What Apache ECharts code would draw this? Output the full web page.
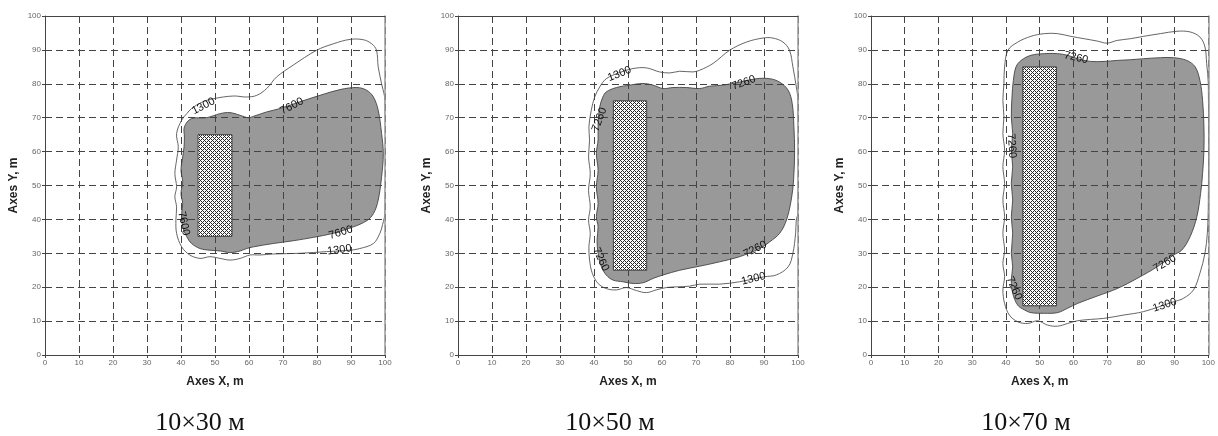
<!DOCTYPE html>
<html><head><meta charset="utf-8">
<script src="https://cdn.jsdelivr.net/npm/echarts@6/dist/echarts.min.js"></script>
<style>html,body{margin:0;padding:0;background:#fff}#c{width:1218px;height:436px}</style>
</head><body><div id="c"></div>
<script>
// ---- data ----
const axisTicks = [0,10,20,30,40,50,60,70,80,90,100];
const captions = ['10×30 м','10×50 м','10×70 м'];
const xTitle = 'Axes X, m';
const yTitle = 'Axes Y, m';

// rectangles: [x0, y0, x1, y1]
const rects = [[45,35,55,65],[45.7,25,55.5,75],[45,14.5,55,85]];

// 7600 / 7260 contour (filled)
const inner1 = [[41,64.3],[41,67.3],[43,69.7],[47.5,70],[51.5,71.2],[54.4,71.5],[57.4,70.7],[59.8,70],[61.3,70.4],[65.2,71.7],[69.1,72.7],[75,74.7],[80.9,76.6],[86.8,78.3],[91.7,78.9],[94.6,78.1],[96.6,76.1],[98,72.2],[99,65.3],[99.5,59.4],[99,52.6],[98,45.7],[96.6,41.7],[94.6,39.6],[90.7,37.8],[84.8,35.9],[78.9,34.7],[73,33.7],[67.2,32.9],[61.3,31.9],[59.3,31.4],[57.4,30.7],[54.4,30.2],[51.5,30.7],[48.5,30.9],[45.6,31.4],[43.1,32.9],[41.7,34.9],[40.5,37.8],[40.2,41.7],[40.5,44.7],[40,47.6],[40.5,51.1],[40,54.5],[40.5,58.4],[40.9,61.4]];
const inner2 = [[41.7,73.2],[42.6,76.1],[43.6,77.6],[46.6,78.9],[50.5,79.6],[54.4,80.1],[57.4,79.6],[60.3,78.6],[63.2,78.9],[67.2,78.9],[71.1,78.6],[74,79.3],[77.9,79.6],[82.8,80.5],[87.7,81.5],[91.7,81.5],[94.6,80.5],[97.1,78.1],[98.3,74.2],[98.8,67.3],[99,60.4],[98.7,51.6],[98,45.7],[96.6,39.8],[94.6,35.9],[91.7,33.4],[88.7,31.4],[82.8,29],[77,27.5],[71.1,26.2],[65.2,25],[60.3,23.6],[57.4,22.6],[54.4,21.3],[51.5,21.1],[48.5,21.6],[45.6,22.1],[43.6,23.6],[42.2,26],[41.2,30],[40.9,33.9],[41.2,37.8],[40.7,40.8],[41.2,44.7],[40.7,49.6],[41.2,54.5],[40.7,59.4],[41.2,63.4],[41.2,68.3]];
const inner3 = [[42.2,81],[43,85],[44.5,86.9],[47.4,88.4],[51.4,88.9],[55.3,88.9],[58.3,88.4],[61.2,87.4],[65.1,86.6],[69.1,86.6],[73,86.9],[76.9,87.1],[80.8,87.4],[85.8,87.7],[89.7,87.7],[93.6,86.9],[96.1,85],[97.5,81],[98.3,75.1],[98.7,67.3],[98.7,60.4],[98.3,53.5],[97.7,47.6],[96.6,40.8],[94.6,34.9],[92.1,30.9],[89.7,29.5],[84.8,26],[78.9,22.6],[73,19.6],[67.1,17.4],[61.2,15.2],[58.3,13.8],[55.3,12.5],[51.4,12.3],[47.4,12.5],[45.5,13.3],[43.5,14.7],[42,18.2],[41.6,22.1],[42,26],[41.6,30],[42,35.9],[41.6,40.8],[42,45.7],[41.6,50.6],[42,55.5],[41.6,60.4],[42,65.3],[41.6,70.2],[41.8,76.1]];

// 1300 contour (line)
const outer1 = [[41.7,71.2],[43.1,72.7],[46,74.5],[49.5,75.6],[55.4,76.4],[59.3,76.1],[62.3,76.6],[65.2,78.6],[68.1,82],[73,85.5],[79.9,89.9],[84.8,91.8],[89.7,93.1],[93.6,93],[96.1,91.8],[97.5,89.9],[98,85],[99,80],[100,75],[100,42],[99.3,38.5],[98.5,35.9],[96.6,32.9],[92.6,31.4],[89.7,30.9],[82.8,30.5],[75,30],[67.2,29.8],[63.2,29.5],[60.3,29.5],[57.4,28.5],[54.4,28],[51.5,28.5],[48.5,29],[45.6,28.5],[42.6,29.5],[40.2,31.9],[38.7,35.9],[38.5,39.8],[38.7,43.7],[38.2,46.7],[38.7,49.6],[38.2,53.5],[38.7,57.5],[39.2,61.4],[38.7,65.3],[40.2,69.3]];
const outer2 = [[41.7,79.1],[43.6,81.5],[47.5,83.3],[51.5,84.5],[55.4,84.7],[59.3,83.5],[62.3,83.2],[65.2,83.7],[69.1,83.5],[71.1,84],[75,86],[79.9,89.9],[84.8,92.3],[89.7,93.5],[92.6,93.5],[95.6,92.3],[97.5,89.9],[98.5,85],[99.5,79.1],[100,75],[100,42],[99.5,39.8],[99.3,35.9],[98.5,30],[97.1,26],[93.6,23.6],[90.2,23.1],[82.8,21.6],[77,20.9],[71.1,20.9],[68.1,20.3],[64.2,20.1],[61.3,19.9],[58.3,19.2],[55.4,18.4],[52.5,19],[49.5,19.9],[46.6,19.2],[43.6,19.6],[41.2,21.1],[39.5,24.1],[38.7,28],[38.5,31.9],[38.9,35.9],[38.4,39.8],[38.9,43.7],[38.4,48.6],[38.9,53.5],[38.4,58.4],[38.7,63.4],[38.5,67.3],[39.2,72.2],[40.2,76.1]];
const outer3 = [[39.6,85],[40.6,89.9],[43.5,92.3],[47.4,94],[51.4,94.8],[55.3,94.8],[59.2,94],[63.2,93.3],[67.1,92.6],[70,92],[73,92.8],[76.9,93.3],[80.8,94],[85.8,94.8],[90.7,95.5],[94.6,95.3],[97.5,93.8],[99,90.9],[99.5,86],[100,80],[100,45],[99.7,35.9],[99,30],[97.5,24.1],[95.6,19.2],[92.6,16.7],[89.7,15.7],[80.8,12.8],[75,11.8],[69,10.8],[65.1,10.5],[61.2,10.1],[58.3,9.3],[55.3,8.5],[52.4,8.8],[49.4,10.1],[46.5,9.3],[43.5,9.8],[41,11.8],[39.6,15.2],[39.1,19.2],[39.6,23.1],[39.1,27],[39.6,30.9],[39.1,35.9],[39.6,40.8],[39.1,45.7],[39.6,50.6],[39.1,55.5],[39.6,60.4],[39.1,65.3],[39.4,70.2],[39.1,75.1],[39.4,80]];

// contour labels: [x, y, text]
const labels1 = [[46.6,73.4,'1300'],[72.6,73.4,'7600'],[40.8,38.8,'7600'],[87,36.1,'7600'],[86.6,31,'1300']];
const labels2 = [[47.5,82.9,'1300'],[84,80.3,'7260'],[41.6,69.5,'7260'],[42,28.2,'7260'],[87.4,31.2,'7260'],[86.9,22.5,'1300']];
const labels3 = [[60.8,87.7,'7260'],[41.7,61.7,'7260'],[42.4,19.7,'7260'],[87.1,27,'7260'],[87.1,14.7,'1300']];
// label rotation (degrees, style)
const angles1 = [27,27,-78,17,8];
const angles2 = [22,20,70,-65,27,14];
const angles3 = [-13,-86,-67,30,18];

const panels = [
  {inner: inner1, outer: outer1, labels: labels1, angles: angles1, rect: rects[0]},
  {inner: inner2, outer: outer2, labels: labels2, angles: angles2, rect: rects[1]},
  {inner: inner3, outer: outer3, labels: labels3, angles: angles3, rect: rects[2]}
];

// ---- styles ----
const gridBoxes = [{left:45, top:16, width:340, height:339},{left:458, top:16, width:340, height:339},{left:871, top:16, width:339, height:339}];
const captionX = [200, 610, 1026];
const FONT = '"Liberation Sans", Arial, sans-serif';

// crosshatch pattern
const pc = document.createElement('canvas');
pc.width = 4; pc.height = 4;
const pctx = pc.getContext('2d');
const img = pctx.createImageData(4,4);
for (let j=0;j<4;j++) for (let i=0;i<4;i++) {
  const k = (j*4+i)*4;
  const dark = ((i+j)%4===0) || (((i-j)%4+4)%4===0);
  const v = dark ? 40 : 255;
  img.data[k]=v; img.data[k+1]=v; img.data[k+2]=v; img.data[k+3]=255;
}
pctx.putImageData(img,0,0);

const grids = [], xAxes = [], yAxes = [], series = [], graphics = [];
panels.forEach((p, i) => {
  grids.push(Object.assign({containLabel:false}, gridBoxes[i]));
  xAxes.push({
    gridIndex:i, type:'value', min:axisTicks[0], max:axisTicks[axisTicks.length-1], interval:axisTicks[1]-axisTicks[0],
    position:'bottom', z:3,
    name:xTitle, nameLocation:'middle', nameGap:21,
    nameTextStyle:{fontFamily:FONT, fontWeight:'bold', fontSize:12, color:'#222'},
    axisLine:{show:true, onZero:false, lineStyle:{color:'#444', width:1}},
    axisTick:{show:true, length:3, lineStyle:{color:'#444'}},
    axisLabel:{fontFamily:FONT, fontSize:8, color:'#666', margin:4},
    splitLine:{show:true, lineStyle:{color:'#444', width:1, type:[7,4]}}
  });
  xAxes.push({
    gridIndex:i, type:'value', min:0, max:100, position:'top', z:3,
    axisLine:{show:true, onZero:false, lineStyle:{color:'#444', width:1}},
    axisTick:{show:false}, axisLabel:{show:false}, splitLine:{show:false}
  });
  yAxes.push({
    gridIndex:i, type:'value', min:axisTicks[0], max:axisTicks[axisTicks.length-1], interval:axisTicks[1]-axisTicks[0],
    position:'left', z:3,
    name:yTitle, nameLocation:'middle', nameGap:25,
    nameTextStyle:{fontFamily:FONT, fontWeight:'bold', fontSize:12, color:'#222'},
    axisLine:{show:true, onZero:false, lineStyle:{color:'#444', width:1}},
    axisTick:{show:true, length:3, lineStyle:{color:'#444'}},
    axisLabel:{fontFamily:FONT, fontSize:8, color:'#666', margin:4},
    splitLine:{show:true, lineStyle:{color:'#444', width:1, type:[7,4]}}
  });
  yAxes.push({
    gridIndex:i, type:'value', min:0, max:100, position:'right', z:3,
    axisLine:{show:true, onZero:false, lineStyle:{color:'#9a9a9a', width:1.5}},
    axisTick:{show:false}, axisLabel:{show:false}, splitLine:{show:false}
  });

  const xi = 2*i, yi = 2*i;
  // 1300 outer line
  series.push({
    type:'custom', xAxisIndex:xi, yAxisIndex:yi, z:2, clip:true, silent:true,
    data:p.outer,
    renderItem:(params, api) => {
      if (params.dataIndex !== 0) return null;
      return {type:'polygon', shape:{points:p.outer.map(q=>api.coord(q)), smooth:0.35},
        style:{fill:'none', stroke:'#555', lineWidth:0.9}};
    }
  });
  // filled inner contour
  series.push({
    type:'custom', xAxisIndex:xi, yAxisIndex:yi, z:2, clip:true, silent:true,
    data:p.inner,
    renderItem:(params, api) => {
      if (params.dataIndex !== 0) return null;
      return {type:'polygon', shape:{points:p.inner.map(q=>api.coord(q)), smooth:0.35},
        style:{fill:'#999999', stroke:'#444', lineWidth:0.9}};
    }
  });
  // hatched rectangle
  series.push({
    type:'custom', xAxisIndex:xi, yAxisIndex:yi, z:4, silent:true,
    data:[[p.rect[0],p.rect[1]],[p.rect[2],p.rect[3]]],
    renderItem:(params, api) => {
      if (params.dataIndex !== 0) return null;
      const a = api.coord([p.rect[0], p.rect[3]]);
      const b = api.coord([p.rect[2], p.rect[1]]);
      return {type:'rect', shape:{x:a[0], y:a[1], width:b[0]-a[0], height:b[1]-a[1]},
        style:{fill:{image:pc, repeat:'repeat'}, stroke:'#444', lineWidth:1}};
    }
  });
  // contour labels
  series.push({
    type:'custom', xAxisIndex:xi, yAxisIndex:yi, z:5, silent:true,
    data:p.labels.map(l=>[l[0], l[1]]),
    renderItem:(params, api) => {
      const c = api.coord([api.value(0), api.value(1)]);
      return {type:'text', x:c[0], y:c[1], rotation:p.angles[params.dataIndex]*Math.PI/180,
        style:{text:p.labels[params.dataIndex][2], font:'11px '+FONT, fill:'#111', align:'center', verticalAlign:'middle'}};
    }
  });

  graphics.push({
    type:'text', x: captionX[i], y: 423,
    style:{text:captions[i], font:'26px "Liberation Serif", "Times New Roman", serif', fill:'#111', align:'center', verticalAlign:'middle'}
  });
});

const chart = echarts.init(document.getElementById('c'), null, {renderer:'canvas'});
chart.setOption({
  animation:false,
  backgroundColor:'#fff',
  grid:grids, xAxis:xAxes, yAxis:yAxes, series:series,
  graphic:graphics
});
</script></body></html>
